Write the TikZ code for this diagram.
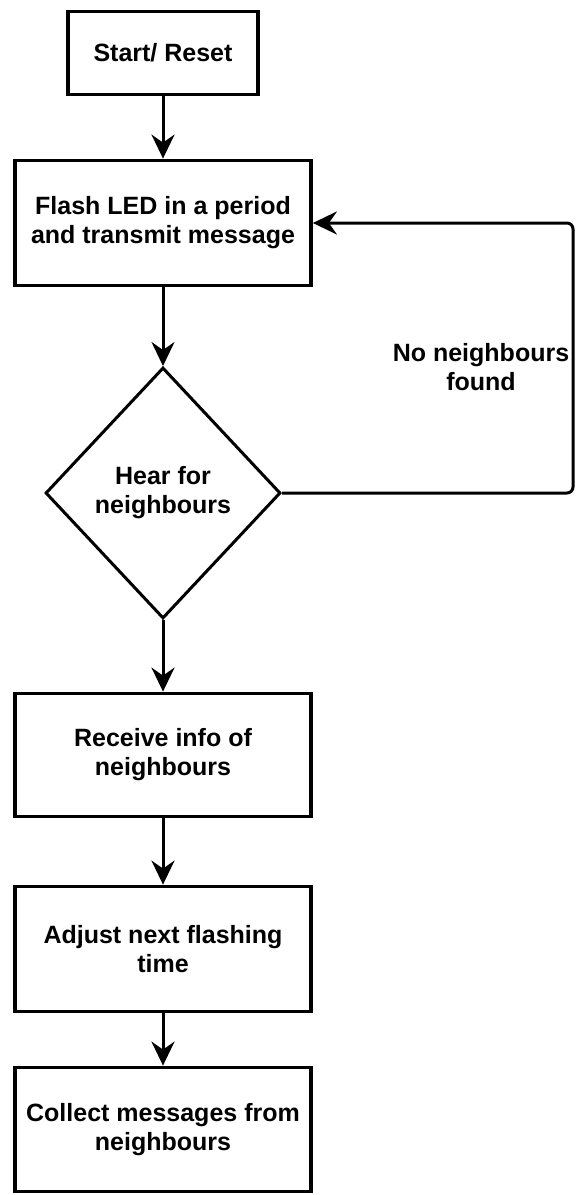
\documentclass[tikz,border=0pt]{standalone}
\usepackage{fontspec}
\setmainfont{Liberation Sans}
\usetikzlibrary{shapes.geometric,arrows.meta}

\begin{document}
\begin{tikzpicture}[x=0.5pt, y=-0.5pt,
	font=\fontsize{12.5}{14.5}\selectfont\bfseries,
	box/.style={draw, line width=1.9pt, minimum width=148pt, align=center, inner sep=0pt},
	decision/.style={draw, diamond, line width=1.5pt, minimum width=117.5pt, minimum height=125.5pt, align=center, inner sep=0pt},
	flow/.style={line width=1.5pt, -{Stealth[length=12pt, width=11.5pt, inset=4pt]}}]
	
	\useasboundingbox (0,0) rectangle (576,1195);
	
	\node[box, minimum width=95pt, minimum height=41.5pt] (start) at (163,53) {Start/ Reset};
	\node[box, minimum height=62.5pt] (flash) at (163,223) {Flash LED in a period\\and transmit message};
	\node[decision] (hear) at (163,493) {Hear for\\neighbours};
	\node[box, minimum height=61.5pt] (receive) at (163,755) {Receive info of\\neighbours};
	\node[box, minimum height=62.5pt] (adjust) at (163,949) {Adjust next flashing\\time};
	\node[box, minimum height=62pt] (collect) at (163,1129.5) {Collect messages from\\neighbours};
	
	\draw[flow] (start) -- (flash);
	\draw[flow] (flash) -- (hear);
	\draw[flow] (hear) -- (receive);
	\draw[flow] (receive) -- (adjust);
	\draw[flow] (adjust) -- (collect);
	
	\coordinate (loop) at (573,223);
	\draw[flow, rounded corners=3pt] (hear.east) -| (loop) -- (flash.east);
	\node[align=center] (nofound) at (481,367) {No neighbours\\found};
	
\end{tikzpicture}
\end{document}
